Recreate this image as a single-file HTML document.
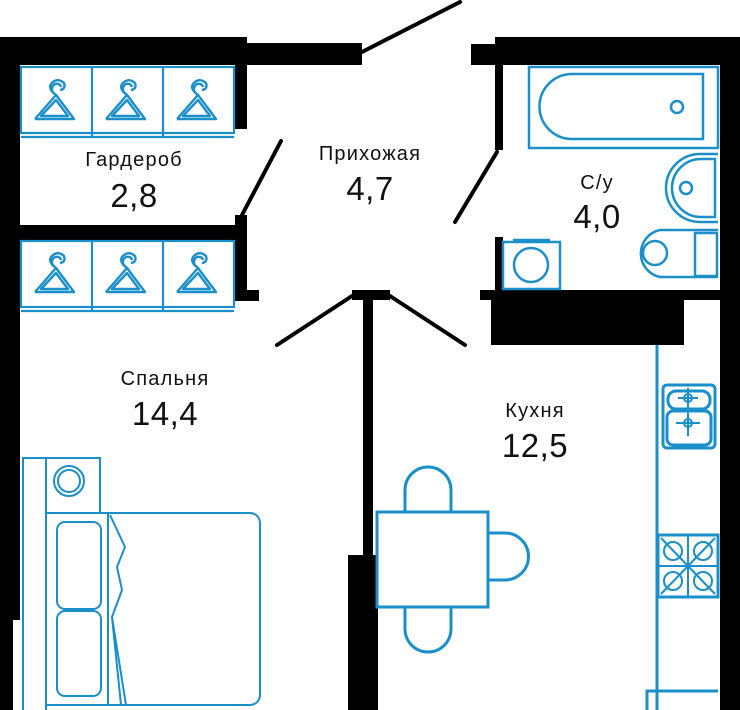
<!DOCTYPE html>
<html><head><meta charset="utf-8"><style>
html,body{margin:0;padding:0;background:#fff;width:740px;height:710px;overflow:hidden}
svg{display:block}
text{font-family:"Liberation Sans","DejaVu Sans",sans-serif;fill:#111;text-anchor:middle}
.l{font-size:20px;letter-spacing:1.2px}
.n{font-size:33px;letter-spacing:0.5px}
</style></head><body>
<svg width="740" height="710" viewBox="0 0 740 710" xmlns="http://www.w3.org/2000/svg">
<defs>
<g id="hanger" fill="none" stroke="#1a8fc9" stroke-width="2.4" stroke-linejoin="round">
  <path d="M15 54 L36 30 Q28 24 31 19 Q37 12 44 18 Q46 24 40 25"/>
  <path d="M36 30 L54 54 L15 54"/>
  <path d="M21 51 L36 35 L48 51 Z"/>
  <path d="M33 28 Q30 22 35 19 Q40 18 41 22"/>
</g>
</defs>
<g fill="#000">
  <rect x="0" y="37" width="247" height="28"/>
  <rect x="247" y="43" width="115" height="22"/>
  <rect x="0" y="37" width="20" height="583"/>
  <rect x="0" y="620" width="13" height="90"/>
  <rect x="235" y="65" width="12" height="64"/>
  <rect x="235" y="215" width="12" height="86"/>
  <rect x="235" y="290" width="24" height="11"/>
  <rect x="20" y="225" width="215" height="15"/>
  <rect x="471" y="44" width="30" height="21"/>
  <rect x="495" y="37" width="245" height="28"/>
  <rect x="495" y="65" width="8" height="85"/>
  <rect x="495" y="237" width="8" height="56"/>
  <rect x="720" y="37" width="20" height="673"/>
  <rect x="480" y="290" width="240" height="10"/>
  <rect x="491" y="300" width="193" height="45"/>
  <rect x="352" y="290" width="38" height="10"/>
  <rect x="363" y="300" width="10" height="255"/>
  <rect x="348" y="555" width="30" height="155"/>
</g>
<g stroke="#000" stroke-width="4" stroke-linecap="round">
  <line x1="362" y1="52" x2="460" y2="2"/>
  <line x1="281" y1="141" x2="242" y2="215"/>
  <line x1="497" y1="152" x2="455" y2="222"/>
  <line x1="352" y1="296" x2="277" y2="345"/>
  <line x1="390" y1="296" x2="465" y2="345"/>
</g>
<g fill="none" stroke="#1a8fc9" stroke-width="2.2">
  <rect x="21" y="67" width="213" height="66"/>
  <line x1="21" y1="137" x2="234" y2="137"/>
  <line x1="92" y1="67" x2="92" y2="137"/><line x1="163" y1="67" x2="163" y2="137"/>
  <rect x="21" y="241" width="213" height="66"/>
  <line x1="21" y1="311" x2="234" y2="311"/>
  <line x1="92" y1="241" x2="92" y2="311"/><line x1="163" y1="241" x2="163" y2="311"/>
</g>
<use href="#hanger" x="20" y="65"/><use href="#hanger" x="91" y="65"/><use href="#hanger" x="162" y="65"/>
<use href="#hanger" x="20" y="238"/><use href="#hanger" x="91" y="238"/><use href="#hanger" x="162" y="238"/>
<g fill="none" stroke="#1a8fc9" stroke-width="2.5">
  <rect x="529" y="67" width="189" height="81"/>
  <path d="M572 74 L703 74 L703 139 L572 139 A32.5 32.5 0 0 1 572 74 Z"/>
  <circle cx="677" cy="107" r="6"/>
  <path d="M718 154 L700 154 A34 34 0 0 0 700 222 L718 222"/>
  <path d="M715 159 L701 159 A29 29 0 0 0 701 217 L715 217 Z"/>
  <circle cx="686" cy="188" r="6"/>
  <path d="M718 230 L660 230 A24 24 0 0 0 660 277 L718 277"/>
  <rect x="695" y="233" width="22" height="43"/>
  <circle cx="655" cy="253" r="12"/>
  <rect x="503" y="242" width="57" height="47"/>
  <line x1="513" y1="240" x2="550" y2="240"/>
  <circle cx="531" cy="265" r="17"/>
</g>
<g fill="none" stroke="#1a8fc9" stroke-width="3">
  <line x1="657" y1="345" x2="657" y2="710"/>
  <rect x="663" y="385" width="52" height="63" rx="4"/>
  <rect x="668" y="391" width="42" height="18" rx="8"/>
  <rect x="667" y="411" width="44" height="34" rx="6"/>
  <rect x="658" y="535" width="60" height="62"/>
  <rect x="377" y="512" width="111" height="95"/>
  <path d="M405 512 L405 490 A23 23 0 0 1 451 490 L451 512"/>
  <path d="M405 607 L405 629 A23 23 0 0 0 451 629 L451 607"/>
  <path d="M488 533 L505 533 A23.5 23.5 0 0 1 505 580 L488 580"/>
  <path d="M647 710 L647 691 L718 691"/>
</g>
<g fill="none" stroke="#1a8fc9" stroke-width="2">
  <line x1="688" y1="388" x2="688" y2="436"/>
  <line x1="678" y1="398" x2="698" y2="398"/><circle cx="688" cy="398" r="4"/>
  <line x1="676" y1="423" x2="700" y2="423"/><circle cx="688" cy="423" r="4"/>
  <line x1="688" y1="535" x2="688" y2="597"/><line x1="658" y1="566" x2="718" y2="566"/>
  <line x1="661" y1="538" x2="715" y2="594"/><line x1="715" y1="538" x2="661" y2="594"/>
  <circle cx="673" cy="551" r="9"/><circle cx="703" cy="551" r="9"/>
  <circle cx="673" cy="581" r="9"/><circle cx="703" cy="581" r="9"/>
</g>
<g fill="none" stroke="#1a8fc9" stroke-width="2">
  <path d="M23 710 L23 458 L100 458 L100 513"/>
  <line x1="46" y1="458" x2="46" y2="710"/>
  <circle cx="69" cy="481" r="15"/><circle cx="69" cy="481" r="11"/>
  <path d="M46 513 L250 513 A10 10 0 0 1 260 523 L260 695 A10 10 0 0 1 250 705 L46 705"/>
  <line x1="108" y1="513" x2="108" y2="705"/>
  <rect x="57" y="522" width="44" height="87" rx="8"/>
  <rect x="57" y="611" width="44" height="85" rx="8"/>
  <path d="M110 515 L125 547 L117 567 L122 590 L112 617 L121 705"/>
  <path d="M112 617 L126 705"/>
</g>
<text class="l" x="134" y="166">Гардероб</text>
<text class="n" x="134" y="207">2,8</text>
<text class="l" x="370" y="160">Прихожая</text>
<text class="n" x="370" y="200">4,7</text>
<text class="l" x="597" y="189">С/у</text>
<text class="n" x="597" y="228">4,0</text>
<text class="l" x="165" y="385">Спальня</text>
<text class="n" x="165" y="425">14,4</text>
<text class="l" x="535" y="417">Кухня</text>
<text class="n" x="535" y="457">12,5</text>
</svg>
</body></html>
